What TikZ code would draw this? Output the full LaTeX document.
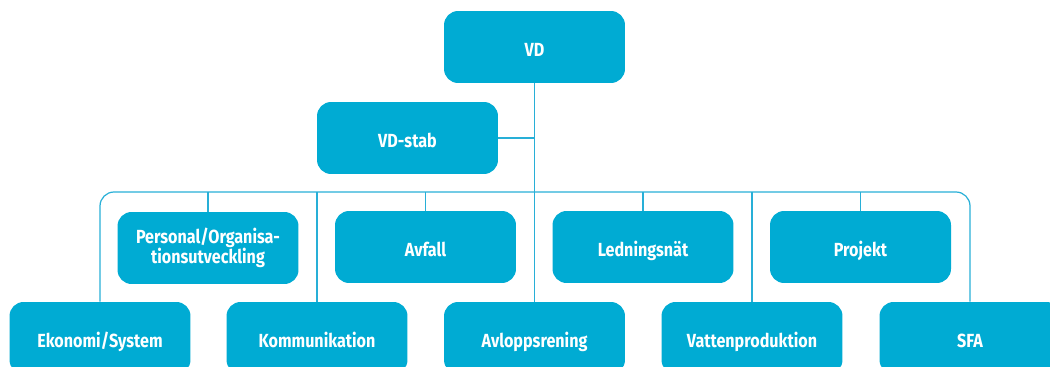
\documentclass[tikz,border=0pt]{standalone}
\usepackage{fontspec}
\setmainfont[FakeStretch=0.85]{Fira Sans}
\usepackage{tikz}
\definecolor{boxcyan}{RGB}{0,171,211}
\definecolor{linecyan}{RGB}{40,175,215}
\tikzset{
  orgbox/.style={draw=none, fill=boxcyan, rounded corners=8pt, text=white,
    font=\bfseries\fontsize{10.8}{11.5}\selectfont, align=center,
    minimum width=3.62cm, minimum height=1.44cm, inner sep=2pt},
  oneline/.style={text height=2.4ex, text depth=0.35ex},
  twoline/.style={},
  orgline/.style={draw=linecyan, line width=0.7pt}
}
\newcommand{\orgunit}[5][oneline]{\node[orgbox,#1] (#2) at ( #3 , #4 ) {#5};}
\begin{document}
\begin{tikzpicture}[x=0.02cm, y=-0.02cm]
\useasboundingbox (0,0) rectangle (1050,367);
% top
\orgunit{vd}{534.5}{47}{VD}
\orgunit{stab}{407.5}{138}{VD-stab}
% upper row
\orgunit[twoline]{pers}{208}{248}{Personal/Organisa-\\tionsutveckling}
\orgunit{avf}{425.5}{247}{Avfall}
\orgunit{led}{643}{247}{Ledningsnät}
\orgunit{proj}{860.5}{247}{Projekt}
% lower row
\orgunit{eko}{100}{338}{Ekonomi/System}
\orgunit{kom}{317}{338}{Kommunikation}
\orgunit{avl}{534.5}{338}{Avloppsrening}
\orgunit{vat}{752}{338}{Vattenproduktion}
\orgunit{sfa}{970}{338}{SFA}
% bus line
\coordinate (bus) at (534.5,192);
\draw[orgline] (vd.south) -- (bus);
\draw[orgline] (stab.east) -- (vd.south |- stab.east);
\draw[orgline, rounded corners=8pt] (eko.north) |- (bus) -| (sfa.north);
\foreach \u in {pers,avf,led,proj,kom,avl,vat}
  \draw[orgline] (\u.north |- bus) -- (\u.north);
\end{tikzpicture}
\end{document}
